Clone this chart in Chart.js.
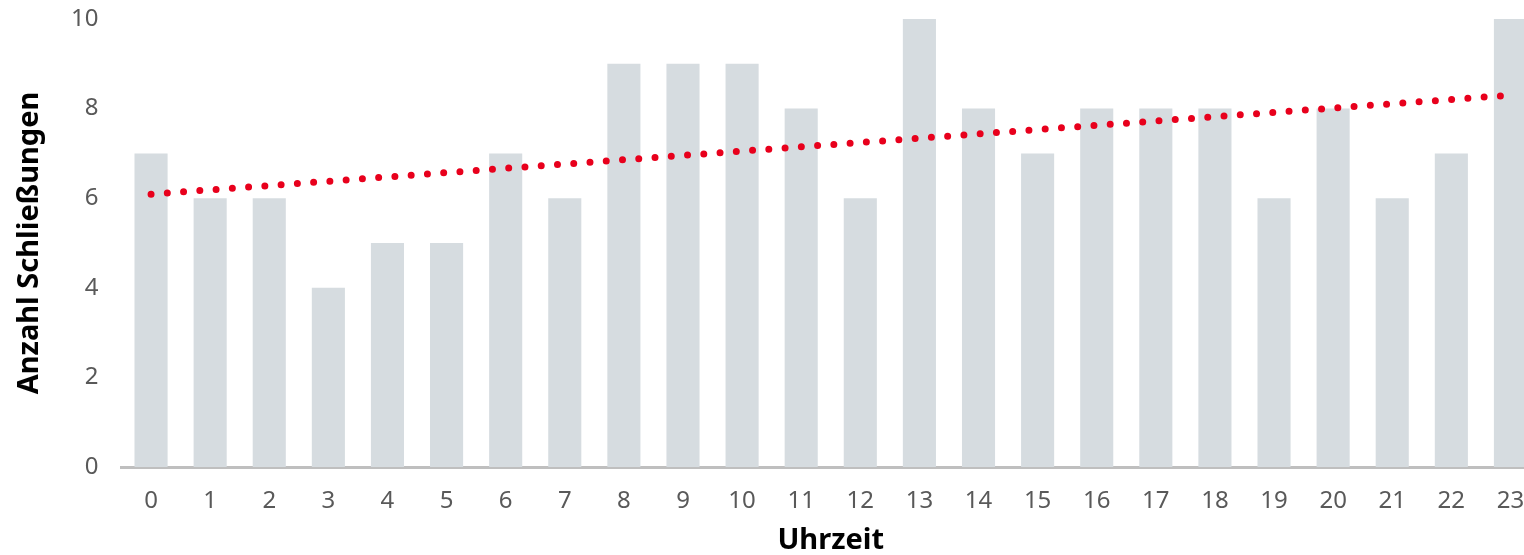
<!DOCTYPE html>
<html>
<head>
<meta charset="utf-8">
<script src="https://cdn.jsdelivr.net/npm/chart.js@4"></script>
<style>
  html, body { margin: 0; padding: 0; background: #fff; overflow: hidden; }
  #wrap { width: 1540px; height: 555px; }
</style>
</head>
<body>
<div id="wrap"><canvas id="chart"></canvas></div>
<script>
// Stunde des Tages
const hours = ["0","1","2","3","4","5","6","7","8","9","10","11","12","13","14","15","16","17","18","19","20","21","22","23"];
// Anzahl Schließungen je Stunde
const closures = [7, 6, 6, 4, 5, 5, 7, 6, 9, 9, 9, 8, 6, 10, 8, 7, 8, 8, 8, 6, 8, 6, 7, 10];
const trendStart = 6.09;
const trendEnd = 8.30;
const yTicks = [0, 2, 4, 6, 8, 10];

const ctx = document.getElementById("chart").getContext("2d");
new Chart(ctx, {
  data: {
    labels: hours,
    datasets: [
      {
        type: 'line',
        data: [{ x: hours[0], y: trendStart }, { x: hours[hours.length - 1], y: trendEnd }],
        borderColor: '#e8001c',
        borderWidth: 7,
        borderDash: [0, 16.3],
        borderCapStyle: 'round',
        pointRadius: 0,
        fill: false,
        order: 0
      },
      {
        type: 'bar',
        data: closures,
        backgroundColor: '#d6dce0',
        categoryPercentage: 1,
        barPercentage: 0.56,
        order: 1
      }
    ]
  },
  options: {
    responsive: true,
    maintainAspectRatio: false,
    animation: false,
    layout: { padding: { top: 19, right: 0, bottom: 0, left: 0 } },
    plugins: { legend: { display: false }, tooltip: { enabled: false } },
    scales: {
      x: {
        grid: { color: 'rgba(0,0,0,0)', drawTicks: false },
        border: { display: true, color: '#bfbfbf', width: 3 },
        ticks: { color: '#595959', padding: 20, maxRotation: 0, font: { family: 'Noto Sans', size: 24 } },
        title: {
          display: true, text: 'Uhrzeit', color: '#000',
          padding: { top: 0, bottom: 0 },
          font: { family: 'Noto Sans', size: 29, weight: 'bold', lineHeight: 1.0 }
        },
        afterFit: s => { s.height = 88; s.paddingLeft = 0; s.paddingRight = 0; }
      },
      y: {
        min: 0, max: 10,
        afterBuildTicks: s => { s.ticks = yTicks.map(v => ({ value: v })); },
        grid: { display: false, drawTicks: false },
        border: { display: false },
        ticks: { color: '#595959', padding: 23, font: { family: 'Noto Sans', size: 24 } },
        title: {
          display: true, text: 'Anzahl Schließungen', color: '#000',
          padding: { top: 12, bottom: 0 },
          font: { family: 'Noto Sans', size: 29, weight: 'bold', lineHeight: 1.2 }
        },
        afterFit: s => { s.width = 121.5; s.paddingTop = 0; s.paddingBottom = 0; }
      }
    }
  }
});
</script>
</body>
</html>
